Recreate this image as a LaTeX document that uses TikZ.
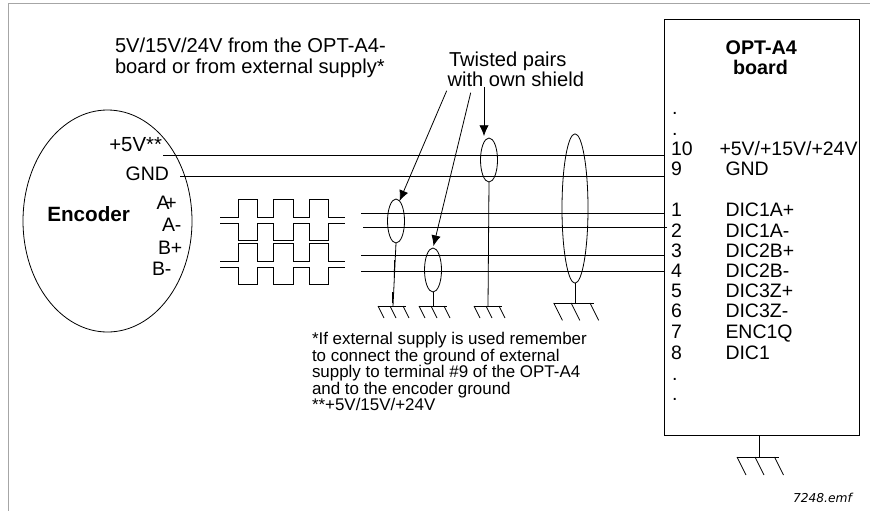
\documentclass[tikz,border=0pt]{standalone}
\usepackage{fontspec}
\setmainfont{Liberation Sans}
\newfontfamily\emffont{DejaVu Sans}
\usetikzlibrary{shapes.geometric,arrows.meta}
\tikzset{
  every node/.style={inner sep=0pt, outer sep=0pt},
  wire/.style={black, line width=0.6pt},
  lead/.style={wire, -{Latex[length=8pt,width=7pt]}},
  txt/.style={anchor=base west, font=\fontsize{14.6}{16}\selectfont},
  big/.style={anchor=base west, font=\fontsize{15.1}{16}\selectfont},
  note/.style={anchor=base west, font=\fontsize{12.7}{14}\selectfont},
  hd/.style={anchor=base, font=\fontsize{14.8}{16}\selectfont\bfseries},
  shield/.style={ellipse, draw, line width=0.6pt, minimum width=12.75pt, minimum height=33pt},
  gnd/.pic={
    \draw [wire] (-14,0) -- (14,0);
    \draw [wire] (-14,0) -- (-8,-12);
    \draw [wire] (-2,0) -- (4,-12);
    \draw [wire] (11,0) -- (17,-12);
  }
}
\begin{document}
\begin{tikzpicture}[x=0.75pt,y=0.75pt]
\useasboundingbox (0,0) rectangle (870,-511);
% frame
\draw [gray!70, line width=0.6pt] (870,-3.5) -- (8.5,-3.5) -- (8.5,-511);
% encoder
\node (enc) [ellipse, draw, line width=0.6pt, minimum width=126.75pt, minimum height=166.5pt] at (107.5,-221) {};
\node (enclbl) [hd, anchor=base west, font=\fontsize{15.5}{16}\selectfont\bfseries] at (47.3,-221.7) {Encoder};
\node (vlbl) [big, anchor=base east, font=\fontsize{15.3}{16}\selectfont] at (162,-151) {+5V**};
\node (gndlbl) [txt, anchor=base east] at (169,-180) {GND};
\node (aplbl) [txt] at (156.5,-209) {A\kern-3pt+};
\node (amlbl) [txt] at (162,-231.7) {A-};
\node (bplbl) [txt] at (158,-254.3) {B+};
\node (bmlbl) [txt] at (152,-275) {B-};
% board
\node (board) [draw, line width=0.6pt, minimum width=146.25pt, minimum height=312pt] at (761.5,-227) {};
\node (boarda) [hd] at (761.3,-54) {OPT-A4};
\node (boardb) [hd] at (760.5,-74) {board};
\node (dota) [txt] at (672,-114) {.};
\node (dotb) [txt] at (672,-135) {.};
\node (t10) [txt] at (671,-155) {10};
\node (t9) [txt] at (671,-175) {9};
\node (t1) [txt] at (671,-216) {1};
\node (t2) [txt] at (671,-237) {2};
\node (t3) [txt] at (671,-257) {3};
\node (t4) [txt] at (671,-277) {4};
\node (t5) [txt] at (671,-297) {5};
\node (t6) [txt] at (671,-317) {6};
\node (t7) [txt] at (671,-338) {7};
\node (t8) [txt] at (671,-359) {8};
\node (dotc) [txt] at (672,-380) {.};
\node (dotd) [txt] at (672,-400) {.};
\node (n10) [txt] at (719.5,-155) {+5V/+15V/+24V};
\node (n9) [txt] at (725.5,-175) {GND};
\node (n1) [txt] at (725.5,-216) {DIC1A+};
\node (n2) [txt] at (725.5,-237) {DIC1A-};
\node (n3) [txt] at (725.5,-257) {DIC2B+};
\node (n4) [txt] at (725.5,-277) {DIC2B-};
\node (n5) [txt] at (725.5,-297) {DIC3Z+};
\node (n6) [txt] at (725.5,-317) {DIC3Z-};
\node (n7) [txt] at (725.5,-338) {ENC1Q};
\node (n8) [txt] at (725.5,-359) {DIC1};
% wires
\coordinate (w10) at (163,-155);
\coordinate (w9) at (180,-176);
\coordinate (w1) at (361,-213);
\coordinate (w2) at (363,-227);
\coordinate (w3) at (361,-255);
\coordinate (w4) at (361,-271);
\draw [wire] (w10) -- (w10 -| board.west);
\draw [wire] (w9) -- (w9 -| board.west);
\draw [wire] (w1) -- (w1 -| board.west);
\draw [wire] (w2) -- (667,-227);
\draw [wire] (w3) -- (w3 -| board.west);
\draw [wire] (w4) -- (w4 -| board.west);
% pulses
\draw [wire] (220,-217) -| (238,-199) -| (257,-217) -| (273,-199) -| (293,-217) -| (309,-199) -| (328,-217) -- (345,-217);
\draw [wire] (220,-223) -| (238,-240) -| (257,-223) -| (273,-240) -| (293,-223) -| (309,-240) -| (328,-223) -- (345,-223);
\draw [wire] (220,-261) -| (238,-243) -| (257,-261) -| (273,-243) -| (293,-261) -| (309,-243) -| (328,-261) -- (345,-261);
\draw [wire] (220,-267) -| (238,-284) -| (257,-267) -| (273,-284) -| (293,-267) -| (309,-284) -| (328,-267) -- (345,-267);
% shields
\node (sha) [shield] at (396,-221) {};
\node (shb) [shield] at (433,-270) {};
\node (shc) [shield] at (489,-160) {};
\node (shd) [shield, minimum width=19.5pt, minimum height=112pt] at (575,-208.5) {};
% grounds
\coordinate (ga) at (393,-306);
\coordinate (gb) at (433,-306);
\coordinate (gc) at (488,-306);
\coordinate (gd) at (575,-303);
\coordinate (ge) at (759,-457);
\pic at (392,-306) {gnd};
\pic at (433,-306) {gnd};
\pic at (488,-306) {gnd};
\pic [scale=1.45] at (574,-303) {gnd};
\pic [scale=1.5] at (758,-457) {gnd};
\draw [wire] (sha.south) -- (ga);
\draw [wire] (394.5,-260) -- (394.3,-277);
\draw [wire] (392,-292) -- (392,-303);
\draw [wire] (shb.south) -- (gb);
\draw [wire] (shc.south) -- (gc);
\draw [wire] (shd.south) -- (gd);
\draw [wire] (board.south -| ge) -- (ge);
% texts
\node (supa) [big] at (115,-52.7) {5V/15V/24V from the OPT-A4-};
\node (supb) [big] at (115,-73.3) {board or from external supply*};
\node (twa) [big] at (449,-66.7) {Twisted pairs};
\node (twb) [big] at (447.5,-86.7) {with own shield};
\coordinate (aa) at (446.7,-90.7);
\coordinate (ab) at (470.7,-92.7);
\coordinate (ac) at (484,-87.3);
\draw [lead] (aa) -- (sha.80);
\draw [lead, shorten >=1.5pt] (ab) -- (shb.north);
\draw [lead, shorten >=1.5pt] (ac) -- (ac |- shc.north);
\node (noa) [note] at (312,-344.5) {*If external supply is used remember};
\node (nob) [note] at (312,-361) {to connect the ground of external};
\node (noc) [note] at (312,-377.5) {supply to terminal \#9 of the OPT-A4};
\node (nod) [note] at (312,-394) {and to the encoder ground};
\node (noe) [note] at (312,-410.5) {**+5V/15V/+24V};
\node (emf) [anchor=base west, font=\emffont\itshape\fontsize{9.2}{10}\selectfont] at (793,-502.7) {7248.emf};
\end{tikzpicture}
\end{document}
